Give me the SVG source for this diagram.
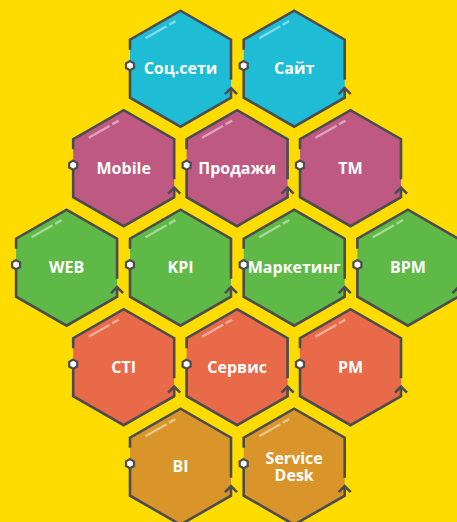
<svg xmlns="http://www.w3.org/2000/svg" xmlns:xlink="http://www.w3.org/1999/xlink" width="457" height="522" viewBox="0 0 457 522">
<style>
.bg{fill:#FFDC00}
.hex{stroke:none}
.c1{fill:#1FBCD6}.c2{fill:#BE5A82}.c3{fill:#5EB946}.c4{fill:#E86A48}.c5{fill:#D9952A}
.edge{fill:none;stroke:#4B4B50;stroke-width:2.6;stroke-linejoin:miter}
.mk{fill:#FFFFFF;stroke:#4B4B50;stroke-width:2.2}
.hl{fill:none;stroke:#FFFFFF;stroke-opacity:0.45;stroke-width:2.4}
.lbl{fill:#FFFFFF;font-family:"Open Sans","Noto Sans","Liberation Sans",sans-serif;font-weight:700;font-size:16px;text-anchor:middle}
</style>
<defs>
<polygon id="hexshape" points="0,-58 50.5,-29 50.5,29 0,58 -50.5,29 -50.5,-29"/>
<g id="deco">
<path class="edge" d="M-50.5,-19 L-50.5,-29 L0,-58 L50.5,-29 L50.5,11 M50.5,19.5 L50.5,29 L0,58 L-50.5,29 L-50.5,-3"/>
<path class="edge" d="M44.5,25.5 L50.5,19.5 L56.5,25.5"/>
<polygon class="mk" points="-50.5,-7.6 -46.5,-5.3 -46.5,-0.7 -50.5,1.6 -54.5,-0.7 -54.5,-5.3"/>
<path class="hl" d="M-35,-30.4 L-14,-42.5 M-11.5,-43.9 L-5,-47.6"/>
</g>
</defs>
<rect class="bg" x="0" y="0" width="457" height="522"/>
<g id="connectors"/>
<g id="n-socseti" transform="translate(180.5,68.7)"><use href="#hexshape" class="c1"/><use href="#deco"/><text class="lbl" x="0" y="5.5">Соц.сети</text></g>
<g id="n-sait" transform="translate(294.2,68.7)"><use href="#hexshape" class="c1"/><use href="#deco"/><text class="lbl" x="0" y="5.5">Сайт</text></g>
<g id="n-mobile" transform="translate(123.7,168.2)"><use href="#hexshape" class="c2"/><use href="#deco"/><text class="lbl" x="0" y="5.5">Mobile</text></g>
<g id="n-prodazhi" transform="translate(237.1,168.2)"><use href="#hexshape" class="c2"/><use href="#deco"/><text class="lbl" x="0" y="5.5">Продажи</text></g>
<g id="n-tm" transform="translate(350.5,168.2)"><use href="#hexshape" class="c2"/><use href="#deco"/><text class="lbl" x="0" y="5.5">TM</text></g>
<g id="n-web" transform="translate(66.6,267.7)"><use href="#hexshape" class="c3"/><use href="#deco"/><text class="lbl" x="0" y="5.5">WEB</text></g>
<g id="n-kpi" transform="translate(180.5,267.7)"><use href="#hexshape" class="c3"/><use href="#deco"/><text class="lbl" x="0" y="5.5">KPI</text></g>
<g id="n-marketing" transform="translate(294.2,267.7)"><use href="#hexshape" class="c3"/><use href="#deco"/><text class="lbl" x="0" y="5.5">Маркетинг</text></g>
<g id="n-bpm" transform="translate(407.9,267.7)"><use href="#hexshape" class="c3"/><use href="#deco"/><text class="lbl" x="0" y="5.5">BPM</text></g>
<g id="n-cti" transform="translate(123.7,367.2)"><use href="#hexshape" class="c4"/><use href="#deco"/><text class="lbl" x="0" y="5.5">CTI</text></g>
<g id="n-servis" transform="translate(237.1,367.2)"><use href="#hexshape" class="c4"/><use href="#deco"/><text class="lbl" x="0" y="5.5">Сервис</text></g>
<g id="n-pm" transform="translate(350.5,367.2)"><use href="#hexshape" class="c4"/><use href="#deco"/><text class="lbl" x="0" y="5.5">PM</text></g>
<g id="n-bi" transform="translate(180.5,466.7)"><use href="#hexshape" class="c5"/><use href="#deco"/><text class="lbl" x="0" y="5.5">BI</text></g>
<g id="n-servicedesk" transform="translate(294.2,466.7)"><use href="#hexshape" class="c5"/><use href="#deco"/><text class="lbl" x="0" y="-3"><tspan x="0" y="-3">Service</tspan><tspan x="0" y="14.7">Desk</tspan></text></g>
</svg>
